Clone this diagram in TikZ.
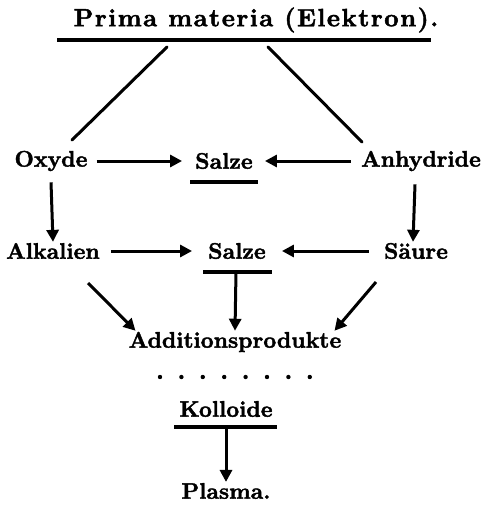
\documentclass[tikz,border=0pt]{standalone}
\usepackage{fontspec}
\usetikzlibrary{arrows.meta,positioning}
% heavy face for the old print look
\newfontfamily\heavyfont{lmroman10-bold}[Extension=.otf,FakeBold=1.8]
\newfontfamily\headfont{lmroman10-bold}[Extension=.otf,FakeBold=1.8,LetterSpace=6]
\tikzset{
  frak/.style={font=\heavyfont\fontsize{22.5}{26}\selectfont,inner sep=1pt},
  headtext/.style={font=\headfont\fontsize{25}{28}\selectfont,inner sep=1pt},
  conn/.style={line width=3pt,line cap=round},
  arr/.style={line width=3pt,-{Triangle[length=12pt,width=12pt]}},
  rule/.style={line width=3.2pt},
}
\begin{document}
\begin{tikzpicture}[x=1pt,y=-1pt]
\useasboundingbox (0,0) rectangle (481,508);
% title with rule
\node[headtext] (prima) at (256,20) {Prima materia (Elektron).};
\coordinate (rulel) at (57,40);
\coordinate (ruler) at (431,40);
\draw[rule] (rulel) -- (ruler);
\coordinate (pa) at (167,47);
\coordinate (pb) at (268,47);
\coordinate (oa) at (72,140);
\coordinate (ob) at (362,142);
\draw[conn] (pa) -- (oa);
\draw[conn] (pb) -- (ob);
% first row
\node[frak] (oxyde) at (51,161) {Oxyde};
\node[frak] (salzea) at (224,161) {Salze};
\node[frak] (anhydr) at (421,161) {Anhydride};
\draw[rule] (190,182) -- (258,182);
\draw[arr] (oxyde.east) ++(8,0) -- ([xshift=-12]salzea.west);
\draw[arr] (anhydr.west) ++(-9,0) -- ([xshift=11]salzea.east);
% second row
\node[frak] (alkal) at (53,251) {Alkalien};
\node[frak] (salzeb) at (237,251) {Salze};
\node[frak] (saeure) at (416,251) {S\"aure};
\draw[rule] (203,272) -- (272,272);
\draw[arr] (oxyde.south) ++(0,10) -- (alkal.north);
\draw[arr] (anhydr.south) ++(-6,12) -- ([xshift=-3]saeure.north);
\draw[arr] (alkal.east) ++(10,0) -- ([xshift=-15]salzeb.west);
\draw[arr] (saeure.west) ++(-14,0) -- ([xshift=15]salzeb.east);
% products
\node[frak] (addit) at (235,342) {Additionsprodukte};
\draw[arr] (88,283) -- ([xshift=8]addit.north west);
\draw[arr] (376,282) -- ([xshift=-8]addit.north east);
\draw[arr] (236,272) -- (addit.north);
\foreach \i in {0,...,7} \fill (160+21.4*\i,377) circle (2.2pt);
\node[frak] (kollo) at (226,409) {Kolloide};
\draw[rule] (174,427) -- (277,427);
\node[frak] (plasma) at (226,491) {Plasma.};
\draw[arr] (226,427) -- (plasma.north);
\end{tikzpicture}
\end{document}
